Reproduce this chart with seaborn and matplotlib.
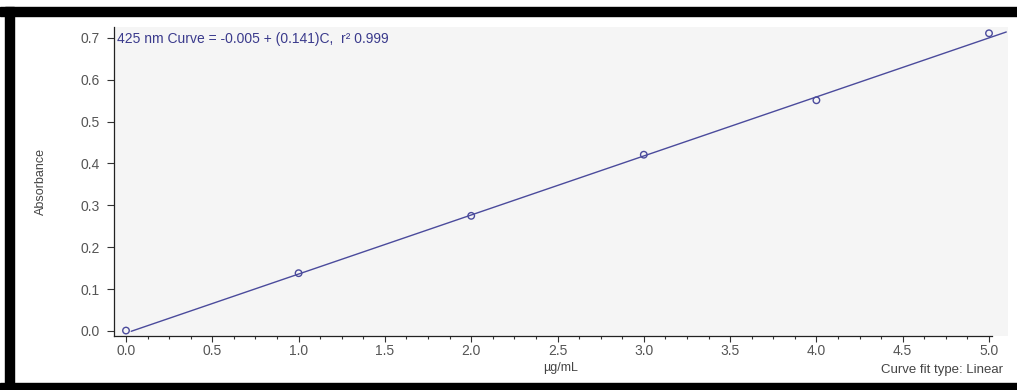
import matplotlib.pyplot as plt
from matplotlib.patches import Rectangle
from matplotlib.ticker import MultipleLocator
import numpy as np
import pandas as pd
import seaborn as sns

# standards (concentration vs absorbance at 425 nm)
conc = [0.0, 1.0, 2.0, 3.0, 4.0, 5.0]
absorbance = [0.001, 0.138, 0.275, 0.421, 0.551, 0.711]
intercept = -0.005
slope = 0.141
fit_range = [0.03, 5.1]
x_ticks = [0.0, 0.5, 1.0, 1.5, 2.0, 2.5, 3.0, 3.5, 4.0, 4.5, 5.0]
y_ticks = [0.0, 0.1, 0.2, 0.3, 0.4, 0.5, 0.6, 0.7]

sns.set_style('white')
plt.rcParams['font.family'] = ['Liberation Sans', 'DejaVu Sans']

blue = '#4b4b9c'
pts = pd.DataFrame({'conc': conc, 'abs': absorbance})
fit = pd.DataFrame({'conc': fit_range})
fit['abs'] = intercept + slope * fit['conc']

fig = plt.figure(figsize=(10.17, 3.9), dpi=100)
ax = fig.add_axes([114 / 1017, 1 - 336 / 390, (1008 - 114) / 1017, (336 - 27) / 390])
ax.set_facecolor('#f5f5f5')

sns.lineplot(data=fit, x='conc', y='abs', color=blue, linewidth=1.0, ax=ax)
sns.scatterplot(data=pts, x='conc', y='abs', marker='o', s=22, facecolors='none',
                edgecolor=blue, linewidth=1.0, ax=ax, zorder=3)

ax.set_xlim(-0.0695, 5.11)
ax.set_ylim(-0.012, 0.726)
ax.set_xticks(x_ticks)
ax.set_xticklabels([f'{t:.1f}' for t in x_ticks])
ax.set_yticks(y_ticks)
ax.set_yticklabels([f'{t:.1f}' for t in y_ticks])
ax.xaxis.set_minor_locator(MultipleLocator(0.125))
ax.tick_params(axis='x', which='major', direction='out', length=4, width=0.8,
               colors='#333333', labelcolor='#555555', labelsize=10, pad=2)
ax.tick_params(axis='y', which='major', direction='out', length=5, width=0.8,
               colors='#333333', labelcolor='#555555', labelsize=10, pad=5.5)
ax.tick_params(axis='x', which='minor', direction='out', length=2, width=0.8, color='#333333')
ax.tick_params(axis='x', which='both', bottom=True)
ax.tick_params(axis='y', which='major', left=True)

for side in ['top', 'right']:
    ax.spines[side].set_visible(False)
ax.spines['left'].set_color('#222222')
ax.spines['bottom'].set_color('#222222')
ax.spines['left'].set_linewidth(0.9)
ax.spines['bottom'].set_linewidth(0.9)
ax.spines['bottom'].set_bounds(-0.0695, 5.02)

ax.set_xlabel('µg/mL', fontsize=9, color='#444444', labelpad=3)
ax.set_ylabel('Absorbance', fontsize=9, color='#444444', labelpad=24)

ax.text(0.003, 0.985, '425 nm Curve = -0.005 + (0.141)C,  r² 0.999', transform=ax.transAxes,
        ha='left', va='top', fontsize=10, color='#3a3a8c')
fig.text(1003 / 1017, 1 - 370 / 390, 'Curve fit type: Linear', ha='right', va='center',
         fontsize=9.5, color='#444444')

# black frame bars from the screenshot
fig.patches.append(Rectangle((0, 1 - 16 / 390), 1, 9 / 390, transform=fig.transFigure,
                             color='black', zorder=10))
fig.patches.append(Rectangle((5 / 1017, 0), 9 / 1017, 1 - 7 / 390, transform=fig.transFigure,
                             color='black', zorder=10))
fig.patches.append(Rectangle((0, 0), 1, 7 / 390, transform=fig.transFigure,
                             color='black', zorder=10))

fig.savefig('out.png', dpi=100)
